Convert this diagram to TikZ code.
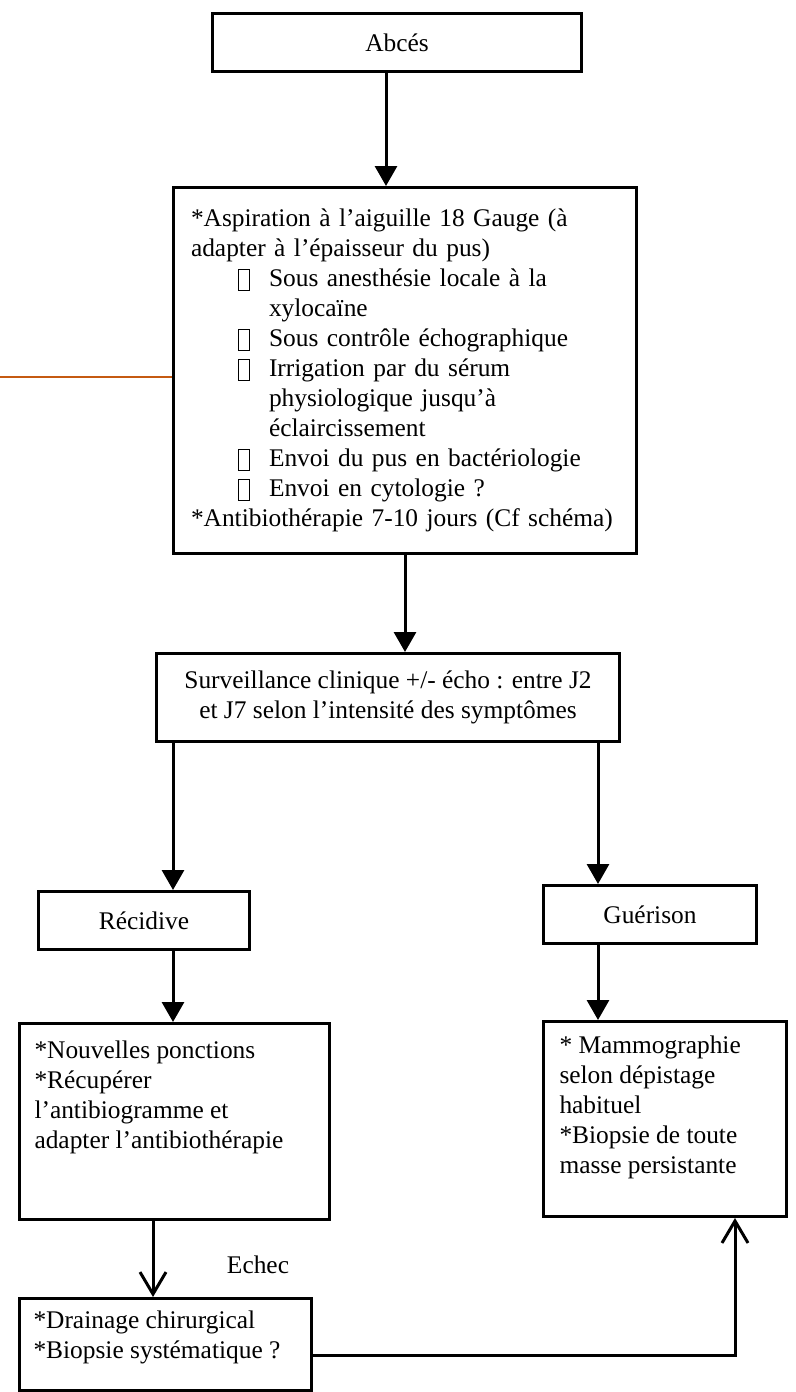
\documentclass[tikz,border=0pt]{standalone}
\usepackage{fontspec}
\setmainfont{Liberation Serif}
\usetikzlibrary{arrows.meta}

\newcommand{\casevide}{\raisebox{-1.5pt}{\setlength{\fboxsep}{0pt}\setlength{\fboxrule}{0.5pt}\fbox{\rule{0pt}{10pt}\hspace{5pt}}}}
\newcommand{\puce}[1]{\par{\leftskip=39pt\noindent\llap{\makebox[15.5pt][l]{\casevide}}#1\par}\noindent\ignorespaces}
\newcommand{\cadrehaut}[4]{\parbox[c][#1][t]{#2}{\raggedright\vspace*{#3}#4}}

\begin{document}
\begin{tikzpicture}[x=0.5pt, y=-0.5pt,
  boite/.style={draw, line width=1.5pt, inner sep=0pt, anchor=north west,
    font=\fontsize{12.7}{15}\selectfont},
  fleche/.style={line width=1.5pt, -{Triangle[length=10pt,width=11pt]}},
  ouvert/.style={line width=1.5pt, -{Straight Barb[length=11pt,width=13pt]}}]
  \useasboundingbox (0,0) rectangle (796,1392);

  \node[boite, minimum width=184.5pt, minimum height=29pt] (abces) at (211,12) {Abcés};
  \node[boite, minimum width=231.5pt, minimum height=183pt, text width=214pt, align=left] (aspir) at (172,186)
    {\raggedright\noindent*Aspiration à l’aiguille 18 Gauge (à\\{}adapter à l’épaisseur du pus)
     \puce{Sous anesthésie locale à la\\{}xylocaïne}
     \puce{Sous contrôle échographique}
     \puce{Irrigation par du sérum\\{}physiologique jusqu’à\\{}éclaircissement}
     \puce{Envoi du pus en bactériologie}
     \puce{Envoi en cytologie ?}
     *Antibiothérapie 7-10 jours (Cf schéma)};
  \node[boite, minimum width=231.5pt, minimum height=44pt, align=center] (surv) at (155,652)
    {Surveillance clinique +/- écho : entre J2\\ et J7 selon l’intensité des symptômes};
  \node[boite, minimum width=105.5pt, minimum height=29pt] (recid) at (37,890) {Récidive};
  \node[boite, minimum width=106.5pt, minimum height=29pt] (guer) at (542,884) {Guérison};
  \node[boite, minimum width=155pt, minimum height=98pt] (ponct) at (18,1022)
    {\cadrehaut{98pt}{140pt}{8.5pt}{*Nouvelles ponctions\\{}*Récupérer\\{}l’antibiogramme et\\{}adapter l’antibiothérapie}};
  \node[boite, minimum width=121.5pt, minimum height=97.5pt] (mammo) at (542,1020)
    {\cadrehaut{97.5pt}{105.5pt}{7pt}{* Mammographie\\{}selon dépistage\\{}habituel\\{}*Biopsie de toute\\{}masse persistante}};
  \node[boite, minimum width=146pt, minimum height=46pt] (drain) at (18,1297)
    {\cadrehaut{46pt}{132pt}{6pt}{*Drainage chirurgical\\{}*Biopsie systématique ?}};
  \node[font=\fontsize{12.7}{15}\selectfont] (echec) at (258,1265) {Echec};

  \coordinate (haut) at (386,0);
  \coordinate (gauche) at (173,0);
  \coordinate (droite) at (598,0);
  \coordinate (bas) at (153,0);
  \coordinate (retour) at (735,1355);
  \coordinate (bord) at (0,377);

  \draw[fleche] (abces.south -| haut) -- (aspir.north -| haut);
  \draw[fleche] (aspir.south) -- (aspir.south |- surv.north);
  \draw[fleche] (surv.south -| gauche) -- (recid.north -| gauche);
  \draw[fleche] (surv.south -| droite) -- (guer.north -| droite);
  \draw[fleche] (recid.south -| gauche) -- (ponct.north -| gauche);
  \draw[fleche] (guer.south -| droite) -- (mammo.north -| droite);
  \draw[ouvert] (ponct.south -| bas) -- (drain.north -| bas);
  \draw[ouvert] (drain.east |- retour) -- (retour) -- (mammo.south -| retour);
  \draw[line width=1pt, color={rgb,255:red,197;green,90;blue,17}] (bord) -- (bord -| aspir.west);
\end{tikzpicture}
\end{document}
